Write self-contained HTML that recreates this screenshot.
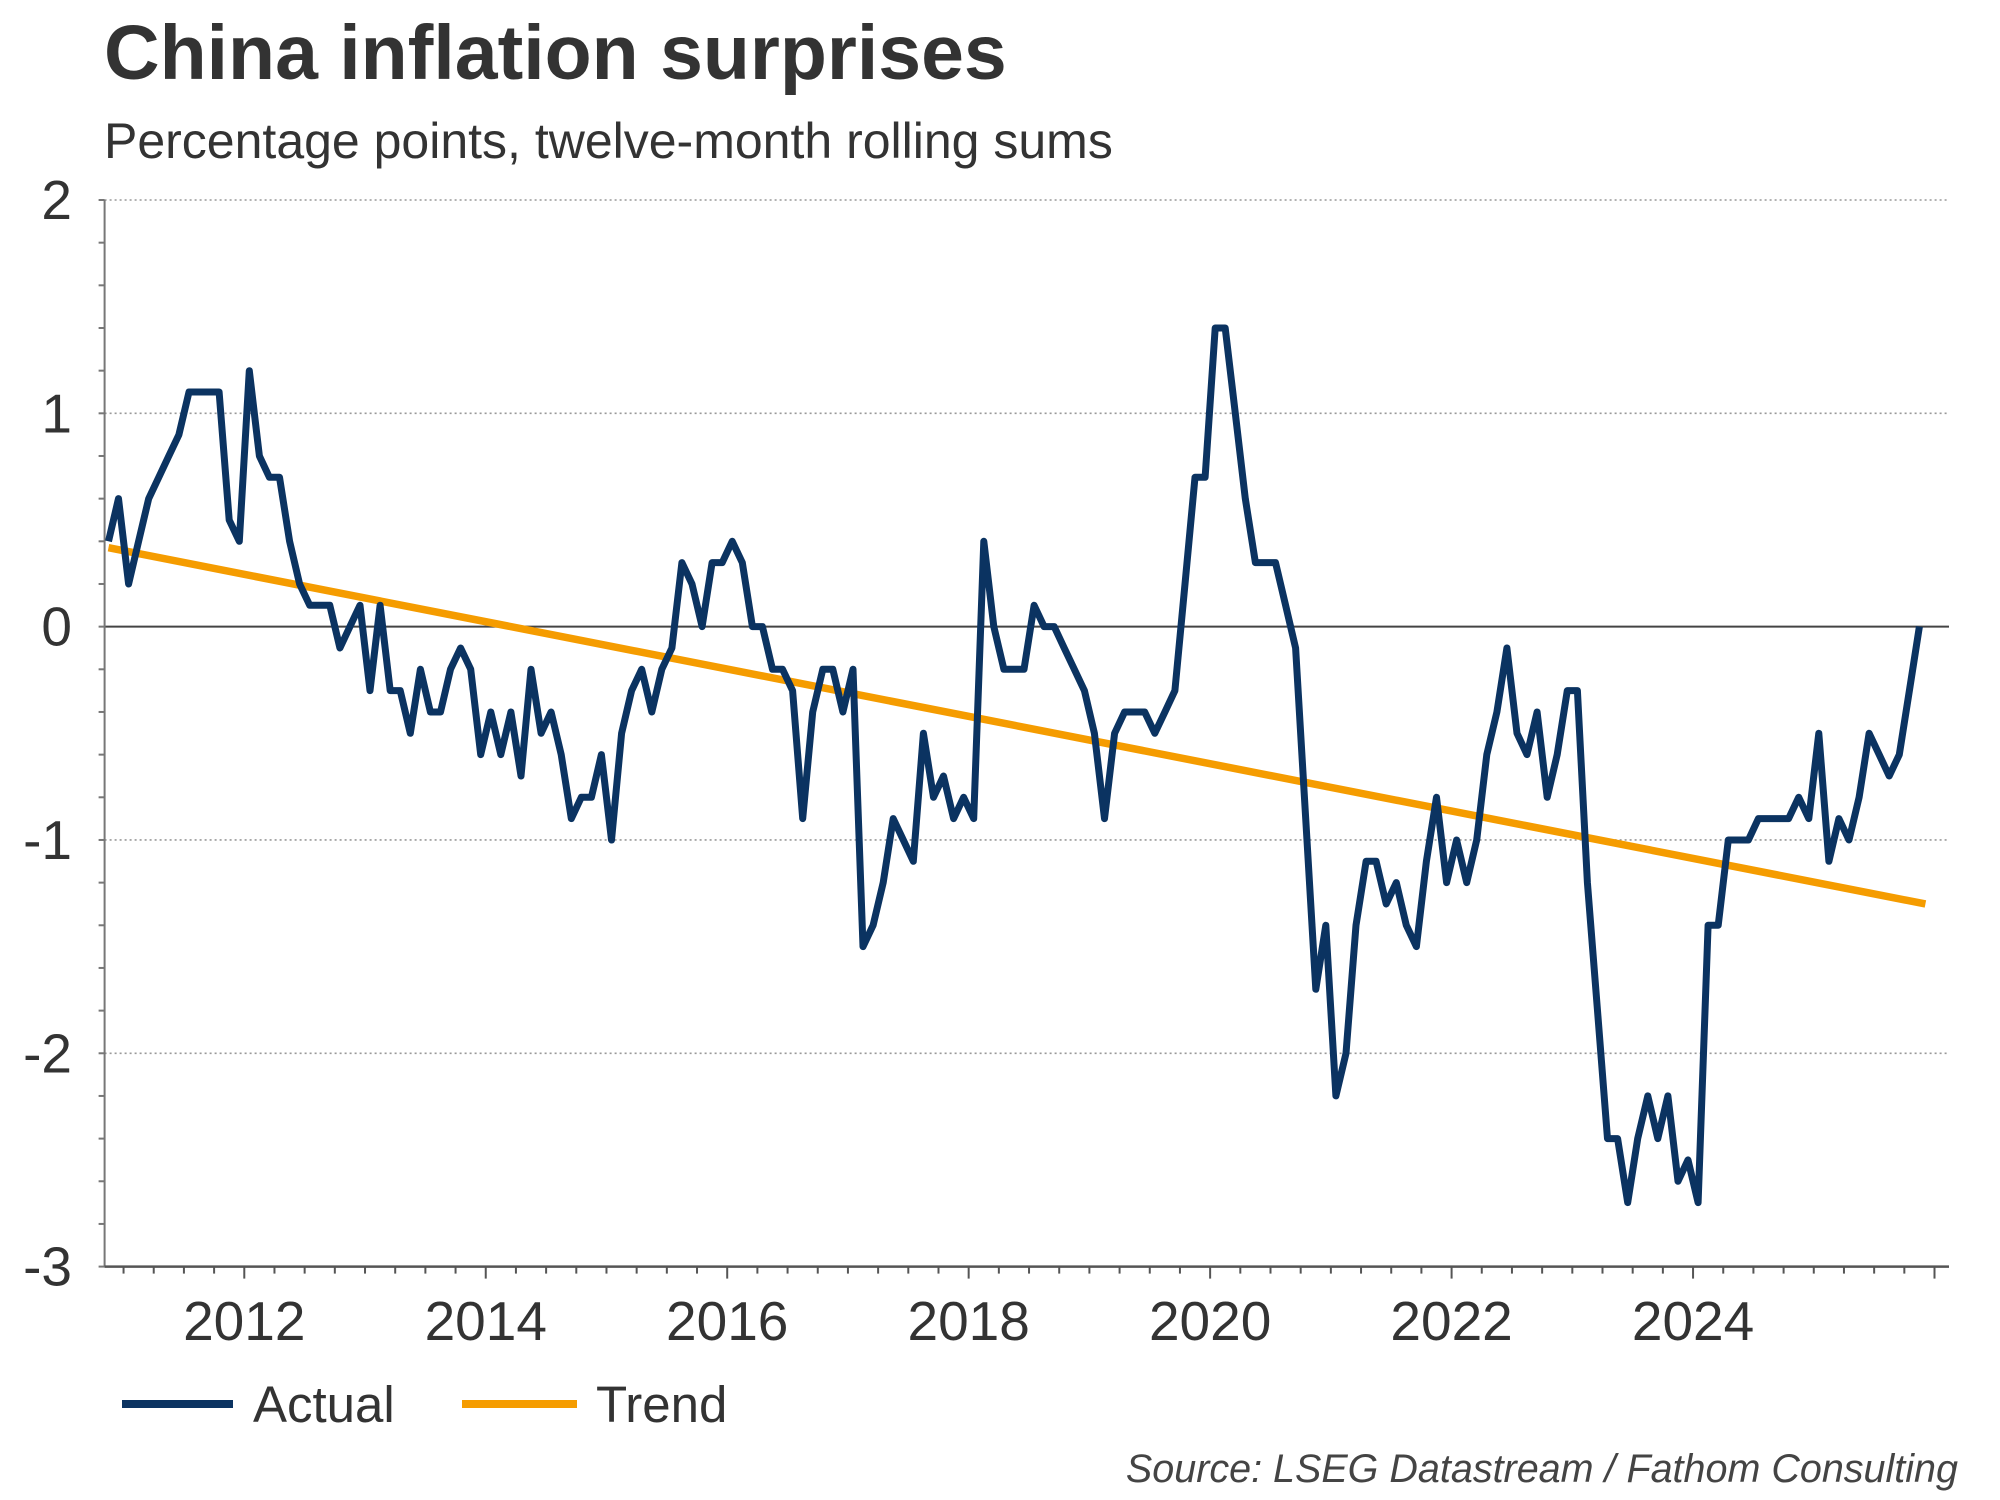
<!DOCTYPE html>
<html><head><meta charset="utf-8"><style>
html,body{margin:0;padding:0;background:#fff;}
svg{display:block;font-family:"Liberation Sans",Arial,sans-serif;}
</style></head><body>
<svg id="chart" width="2000" height="1500" viewBox="0 0 2000 1500" xmlns="http://www.w3.org/2000/svg">
<text x="104" y="79" font-size="77" font-weight="bold" fill="#333">China inflation surprises</text>
<text x="104" y="158" font-size="50" fill="#333">Percentage points, twelve-month rolling sums</text>
<g id="grid"></g>
<g id="axes"></g>
<g id="series"></g>
<g>
<line x1="122" y1="1404" x2="233" y2="1404" stroke="#0b3361" stroke-width="8"/>
<text x="253" y="1422" font-size="51" fill="#333">Actual</text>
<line x1="462" y1="1404" x2="577" y2="1404" stroke="#f59c00" stroke-width="8"/>
<text x="596" y="1422" font-size="51" fill="#333">Trend</text>
</g>
<text x="1958" y="1482" font-size="39.5" font-style="italic" fill="#444" text-anchor="end">Source: LSEG Datastream / Fathom Consulting</text>
</svg>
<script>
const startYear = 2010, startMonth = 11;
const actualValues = [0.4,0.6,0.2,0.4,0.6,0.7,0.8,0.9,1.1,1.1,1.1,1.1,0.5,0.4,1.2,0.8,0.7,0.7,0.4,0.2,
0.1,0.1,0.1,-0.1,0.0,0.1,-0.3,0.1,-0.3,-0.3,-0.5,-0.2,-0.4,-0.4,-0.2,-0.1,-0.2,-0.6,-0.4,-0.6,
-0.4,-0.7,-0.2,-0.5,-0.4,-0.6,-0.9,-0.8,-0.8,-0.6,-1.0,-0.5,-0.3,-0.2,-0.4,-0.2,-0.1,0.3,0.2,0.0,
0.3,0.3,0.4,0.3,0.0,0.0,-0.2,-0.2,-0.3,-0.9,-0.4,-0.2,-0.2,-0.4,-0.2,-1.5,-1.4,-1.2,-0.9,-1.0,
-1.1,-0.5,-0.8,-0.7,-0.9,-0.8,-0.9,0.4,0.0,-0.2,-0.2,-0.2,0.1,0.0,0.0,-0.1,-0.2,-0.3,-0.5,-0.9,-0.5,
-0.4,-0.4,-0.4,-0.5,-0.4,-0.3,0.2,0.7,0.7,1.4,1.4,1.0,0.6,0.3,0.3,0.3,0.1,-0.1,-0.9,-1.7,
-1.4,-2.2,-2.0,-1.4,-1.1,-1.1,-1.3,-1.2,-1.4,-1.5,-1.1,-0.8,-1.2,-1.0,-1.2,-1.0,-0.6,-0.4,-0.1,-0.5,
-0.6,-0.4,-0.8,-0.6,-0.3,-0.3,-1.2,-1.8,-2.4,-2.4,-2.7,-2.4,-2.2,-2.4,-2.2,-2.6,-2.5,-2.7,-1.4,-1.4,
-1.0,-1.0,-1.0,-0.9,-0.9,-0.9,-0.9,-0.8,-0.9,-0.5,-1.1,-0.9,-1.0,-0.8,-0.5,-0.6,-0.7,-0.6,-0.3,0.0];
const trendValues = [0.37, -1.30];
const yTicks = [2, 1, 0, -1, -2, -3];
const yTickLabels = ["2","1","0","-1","-2","-3"];
const xTickYears = [2012, 2014, 2016, 2018, 2020, 2022, 2024];

const NS = "http://www.w3.org/2000/svg";
const X0 = 104.6, X1 = 1949, yTop = 200, yBot = 1266.6;
const yMin = -3, yMax = 2;
const xMin = 2010.843, xMax = 2026.12;
function xs(t){ return X0 + (t - xMin) / (xMax - xMin) * (X1 - X0); }
function ys(v){ return yBot - (v - yMin) / (yMax - yMin) * (yBot - yTop); }
function monthDate(i){ return startYear + (startMonth - 1 + i + 0.5) / 12; }
function mk(tag, attrs, parent){ const e = document.createElementNS(NS, tag); for (const k in attrs) e.setAttribute(k, attrs[k]); parent.appendChild(e); return e; }

const grid = document.getElementById('grid'), axes = document.getElementById('axes'), series = document.getElementById('series');
yTicks.forEach((v, i) => {
  if (v !== yMin) {
    const l = mk('line', {x1: X0, x2: X1, y1: ys(v), y2: ys(v), stroke: v === 0 ? '#444' : '#999', 'stroke-width': v === 0 ? 2 : 1.6, 'stroke-dasharray': v === 0 ? 'none' : '2 3'}, grid);
    
    
  }
  const t = mk('text', {x: 72, y: ys(v) + 19, 'font-size': 55, fill: '#333', 'text-anchor': 'end'}, axes);
  t.textContent = yTickLabels[i];
  
  
});
const ya = mk('line', {x1: X0, x2: X0, y1: yTop, y2: yBot, stroke: '#777', 'stroke-width': 2}, axes);


for (let v = yMin; v <= yMax + 1e-9; v += 0.2) {
  const tk = mk('line', {x1: X0 - 6, x2: X0, y1: ys(v), y2: ys(v), stroke: '#777', 'stroke-width': 2}, axes);
  
  
}
const xa = mk('line', {x1: X0, x2: X1, y1: yBot, y2: yBot, stroke: '#555', 'stroke-width': 2.5}, axes);


for (let q = Math.ceil(xMin * 4); q / 4 <= xMax; q++) {
  const t = q / 4, major = (q % 8 === 0);
  const tk = mk('line', {x1: xs(t), x2: xs(t), y1: yBot, y2: yBot + (major ? 12 : 7), stroke: '#555', 'stroke-width': 2}, axes);
  
  
}
xTickYears.forEach(yr => {
  const t = mk('text', {x: xs(yr), y: 1340, 'font-size': 55, fill: '#333', 'text-anchor': 'middle'}, axes);
  t.textContent = String(yr);
  
  
});
const lastIdx = actualValues.length - 1;
const tr = mk('line', {x1: xs(monthDate(0)), y1: ys(trendValues[0]), x2: xs(monthDate(lastIdx)) + 6, y2: ys(trendValues[1]), stroke: '#f59c00', 'stroke-width': 7.5, 'stroke-linecap': 'butt'}, series);


const pts = actualValues.map((v, i) => xs(monthDate(i)).toFixed(1) + ',' + ys(v).toFixed(1)).join(' ');
const al = mk('polyline', {points: pts, fill: 'none', stroke: '#0b3361', 'stroke-width': 7, 'stroke-linejoin': 'round'}, series);


</script>
</body></html>
